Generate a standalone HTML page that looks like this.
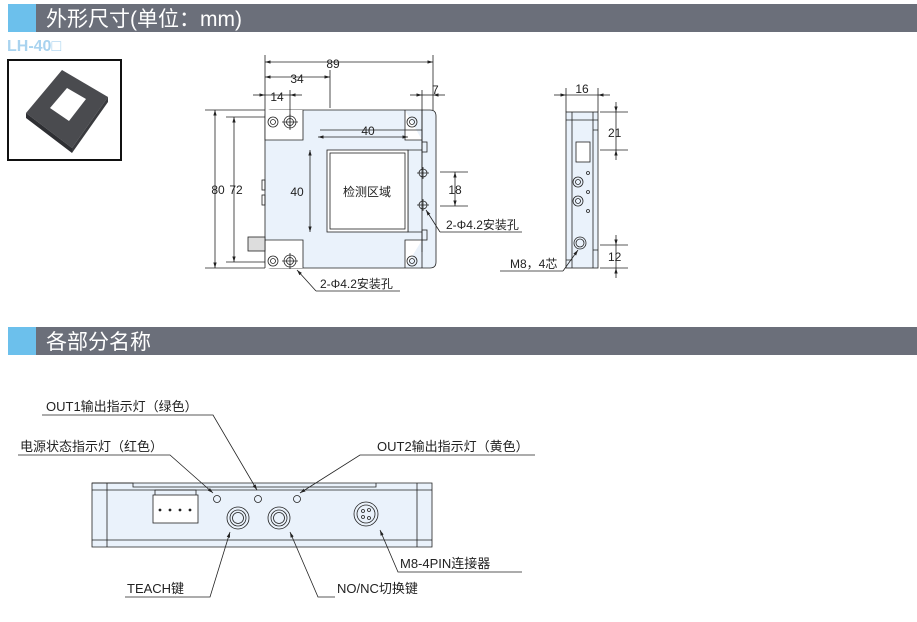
<!DOCTYPE html>
<html><head><meta charset="utf-8"><style>
body{margin:0;background:#fff;width:917px;height:622px;overflow:hidden}
svg{display:block}
text{font-family:"Liberation Sans","Noto Sans CJK SC",sans-serif;fill:#222}
</style></head><body>
<svg width="917" height="622" viewBox="0 0 917 622" xmlns="http://www.w3.org/2000/svg">
<defs>
<marker id="a" viewBox="0 0 10 10" refX="10" refY="5" markerWidth="7" markerHeight="7" orient="auto-start-reverse"><path d="M0,2 L10,5 L0,8 z" fill="#222"/></marker>
</defs>
<rect x="8" y="4" width="28" height="28" fill="#6cc0ec"/>
<rect x="36" y="4" width="881" height="28" fill="#6b6f7a"/>
<text x="46" y="26" font-size="21" style="fill:#fff">外形尺寸(单位：mm)</text>
<rect x="8" y="327" width="28" height="28" fill="#6cc0ec"/>
<rect x="36" y="327" width="881" height="28" fill="#6b6f7a"/>
<text x="46" y="349" font-size="21" style="fill:#fff">各部分名称</text>
<text x="7" y="51" font-size="16" font-weight="bold" style="fill:#a9d3ef">LH-40□</text>
<rect x="8" y="60" width="113" height="100" fill="#fff" stroke="#111" stroke-width="2"/>
<polygon points="26,113 62,70 108,97 72,148" fill="#4a4b4f"/>
<polygon points="26,113 72,148 72,153 26,118" fill="#2e2f33"/>
<polygon points="72,148 108,97 108,102 72,153" fill="#3a3b3f"/>
<polygon points="50,108 67,88 86,99 69,121" fill="#fff"/>
<g stroke="#222" stroke-width="0.8" fill="none">
<path d="M271,110 H430 Q436,110 436,116 V262 Q436,268 430,268 H271 Q265,268 265,262 V116 Q265,110 271,110 Z" fill="#eaf2fb"/>
<path d="M265,110 V140 H303 V110" fill="#fff"/>
<path d="M265,268 V240 H303 V268" fill="#fff"/>
<path d="M405,110 V140 H422" fill="#fff"/>
<path d="M405,268 V240 H422" fill="#fff"/>
<path d="M320,130 H422 V150 H408 V232 H422 V252" />
<rect x="327" y="150" width="81" height="82" fill="#fff"/>
<rect x="330" y="153" width="75" height="76" />
<path d="M422,138 V268 M422,110 V138"/>
<rect x="422" y="142" width="5" height="10" />
<rect x="422" y="230" width="5" height="10" />
<rect x="262" y="180" width="3" height="10"/><rect x="262" y="195" width="3" height="10"/>
<rect x="248" y="237" width="17" height="14" fill="#ddd"/>
<circle cx="273" cy="122" r="5"/><circle cx="273" cy="122" r="2.5"/>
<circle cx="290" cy="122" r="6"/><circle cx="290" cy="122" r="3.5"/><path d="M282,122 H298 M290,114 V130"/>
<circle cx="412" cy="122" r="5"/><circle cx="412" cy="122" r="2.5"/>
<circle cx="273" cy="261" r="5"/><circle cx="273" cy="261" r="2.5"/>
<circle cx="290" cy="261" r="6"/><circle cx="290" cy="261" r="3.5"/><path d="M282,261 H298 M290,253 V269"/>
<circle cx="412" cy="261" r="5"/><circle cx="412" cy="261" r="2.5"/>
<circle cx="423" cy="173" r="4"/><path d="M417,173 H429 M423,167 V179"/>
<circle cx="423" cy="205" r="4"/><path d="M417,205 H429 M423,199 V211"/>
<path d="M265,55 V110 M433,55 V110 M330,70 V108 M290,90 V128 M422,90 V170"/>
<path d="M265,62 H433" marker-start="url(#a)" marker-end="url(#a)"/>
<path d="M265,77 H330" marker-start="url(#a)" marker-end="url(#a)"/>
<path d="M253,95 H265" marker-end="url(#a)"/><path d="M302,95 H290" marker-end="url(#a)"/><path d="M265,95 H290"/>
<path d="M410,95 H422" marker-end="url(#a)"/><path d="M445,95 H433" marker-end="url(#a)"/><path d="M422,95 H433"/>
<path d="M205,110 H265 M205,268 H265 M226,117 H265 M226,262 H265"/>
<path d="M215,110 V268" marker-start="url(#a)" marker-end="url(#a)"/>
<path d="M234,117 V262" marker-start="url(#a)" marker-end="url(#a)"/>
<path d="M318,137 H408" marker-start="url(#a)" marker-end="url(#a)"/>
<path d="M310,150 V232" marker-start="url(#a)" marker-end="url(#a)"/>
<path d="M440,172 H468 M440,206 H468"/>
<path d="M455,172 V206" marker-start="url(#a)" marker-end="url(#a)"/>
<path d="M440,232 L426,210" marker-end="url(#a)"/><path d="M440,232 H522"/>
<path d="M316,291 L297,270" marker-end="url(#a)"/><path d="M316,291 H400"/>
<rect x="566" y="112" width="32" height="156" fill="#eaf2fb"/>
<path d="M572,112 V268 M593,112 V268 M566,120 H598 M593,130 H598 M593,250 H598 M566,260 H572"/>
<rect x="576" y="142" width="14" height="20" fill="#fff"/>
<circle cx="578" cy="182" r="5"/><circle cx="578" cy="182" r="2.5"/>
<circle cx="578" cy="201" r="5"/><circle cx="578" cy="201" r="2.5"/>
<circle cx="588" cy="173" r="1.5"/><circle cx="588" cy="192" r="1.5"/><circle cx="588" cy="211" r="1.5"/>
<circle cx="580" cy="243" r="6"/><circle cx="580" cy="243" r="4"/>
<path d="M566,88 V112 M598,88 V112"/>
<path d="M554,95 H566" marker-end="url(#a)"/><path d="M610,95 H598" marker-end="url(#a)"/><path d="M566,95 H598"/>
<path d="M600,112 H628 M600,150 H628 M600,245 H628 M600,268 H628"/>
<path d="M616,102 V112" marker-end="url(#a)"/><path d="M616,160 V150" marker-end="url(#a)"/><path d="M616,112 V150"/>
<path d="M616,235 V245" marker-end="url(#a)"/><path d="M616,278 V268" marker-end="url(#a)"/><path d="M616,245 V268"/>
<path d="M563,271 L578,250" marker-end="url(#a)"/><path d="M563,271 H500"/>
<path d="M92,483 H432 V547 H92 Z" fill="#eaf2fb"/>
<path d="M92,490 H432 M92,540 H432 M107,483 V547 M417,483 V547 M92,483 H133 V487 H376 V483"/>
<rect x="153" y="495" width="45" height="28" fill="#fff"/>
<path d="M155,495 V490 H196 V495"/>
<circle cx="160" cy="510" r="1" fill="#222"/><circle cx="170" cy="510" r="1" fill="#222"/><circle cx="180" cy="510" r="1" fill="#222"/><circle cx="190" cy="510" r="1" fill="#222"/>
<circle cx="217" cy="499" r="3.5"/><circle cx="258" cy="499" r="3.5"/><circle cx="297" cy="499" r="3.5"/>
<circle cx="238" cy="518" r="11"/><circle cx="238" cy="518" r="8"/><circle cx="238" cy="518" r="5.5"/>
<circle cx="279" cy="518" r="11"/><circle cx="279" cy="518" r="8"/><circle cx="279" cy="518" r="5.5"/>
<circle cx="366" cy="514" r="12"/><circle cx="366" cy="514" r="9"/>
<circle cx="363" cy="511" r="1.5"/><circle cx="369" cy="510" r="1.5"/><circle cx="363" cy="517" r="1.5"/><circle cx="369" cy="518" r="1.5"/>
<path d="M42,415 H213 L257,490" marker-end="url(#a)"/>
<path d="M18,455 H170 L213,493" marker-end="url(#a)"/>
<path d="M535,455 H360 L300,493" marker-end="url(#a)"/>
<path d="M125,597 H210 L230,532" marker-end="url(#a)"/>
<path d="M335,597 H318 L290,532" marker-end="url(#a)"/>
<path d="M522,572 H398 L380,530" marker-end="url(#a)"/>
</g>
<g font-size="12">
<text x="333" y="68" text-anchor="middle">89</text>
<text x="297" y="83" text-anchor="middle">34</text>
<text x="277" y="101" text-anchor="middle">14</text>
<text x="432" y="94">7</text>
<text x="368" y="135" text-anchor="middle">40</text>
<text x="297" y="196" text-anchor="middle">40</text>
<text x="367" y="196" text-anchor="middle">检测区域</text>
<text x="218" y="194" text-anchor="middle">80</text>
<text x="236" y="194" text-anchor="middle">72</text>
<text x="455" y="194" text-anchor="middle">18</text>
<text x="446" y="229">2-Φ4.2安装孔</text>
<text x="320" y="288">2-Φ4.2安装孔</text>
<text x="582" y="93" text-anchor="middle">16</text>
<text x="608" y="137">21</text>
<text x="608" y="261">12</text>
<text x="510" y="268">M8，4芯</text>
</g>
<g font-size="13">
<text x="46" y="411">OUT1输出指示灯（绿色）</text>
<text x="20" y="451">电源状态指示灯（红色）</text>
<text x="377" y="451">OUT2输出指示灯（黄色）</text>
<text x="127" y="593">TEACH键</text>
<text x="337" y="593">NO/NC切换键</text>
<text x="400" y="568">M8-4PIN连接器</text>
</g>
</svg>
</body></html>
